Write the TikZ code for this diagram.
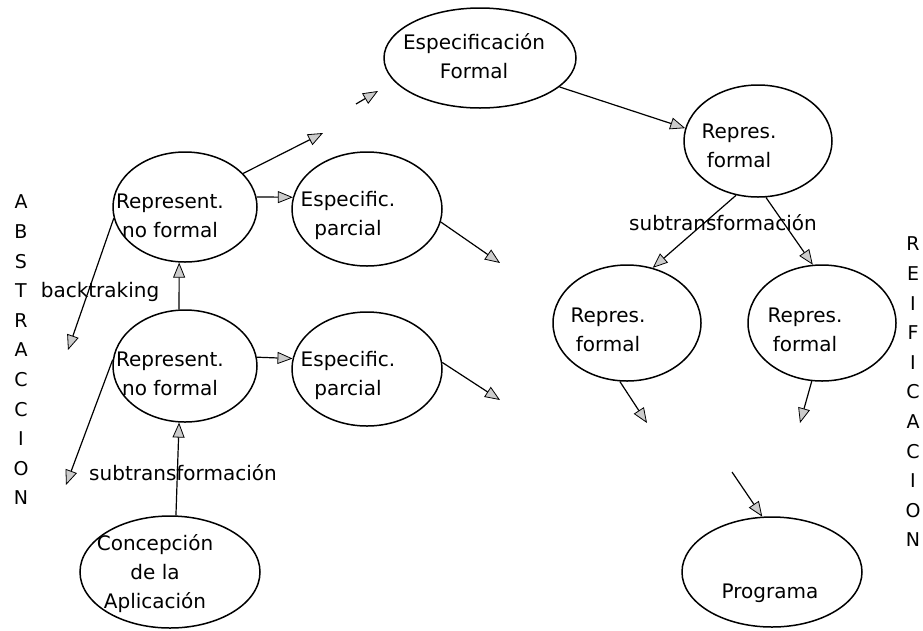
\documentclass[tikz,border=0pt]{standalone}
\usepackage{fontspec}
\setmainfont{DejaVu Sans}
\usetikzlibrary{shapes.geometric,arrows.meta}
\begin{document}
\begin{tikzpicture}[x=1pt,y=-1pt,
  oval/.style={ellipse, draw, line width=1.5pt, inner sep=0pt},
  txt/.style={align=center, font=\fontsize{20}{29}\selectfont, inner sep=0pt},
  side/.style={align=center, font=\fontsize{19}{29.6}\selectfont, inner sep=0pt},
  conn/.style={line width=1.2pt, -{Triangle[length=15pt,width=12pt,fill=gray!40,line width=0.8pt]}},
]
\useasboundingbox (0,0) rectangle (923,630);

% side captions
\node[side] (abs) at (21,350) {A\\B\\S\\T\\R\\A\\C\\C\\I\\O\\N};
\node[side] (rei) at (913,392) {R\\E\\I\\F\\I\\C\\A\\C\\I\\O\\N};

% abstraction branch (left)
\node[oval, minimum width=180, minimum height=112] (C) at (170,572) {};
\node[txt] (Ct) at (155,574) {Concepción\\de la\\Aplicación};
\node[oval, minimum width=144, minimum height=112] (L2) at (185,366) {};
\node[txt] (L2t) at (170,374) {Represent.\\no formal};
\node[oval, minimum width=144, minimum height=110] (L1) at (185,207) {};
\node[txt] (L1t) at (170,216) {Represent.\\no formal};
\node[oval, minimum width=150, minimum height=114] (P1) at (367,209) {};
\node[txt] (P1t) at (348,215) {Especific.\\parcial};
\node[oval, minimum width=150, minimum height=114] (P2) at (367,369) {};
\node[txt] (P2t) at (348,375) {Especific.\\parcial};

% reification branch (right)
\node[oval, minimum width=192, minimum height=100] (E1) at (480,58) {};
\node[txt] (E1t) at (474,56) {Especificación\\Formal};
\node[oval, minimum width=148, minimum height=112] (E2) at (758,141) {};
\node[txt] (E2t) at (739,146) {Repres.\\formal};
\node[oval, minimum width=148, minimum height=116] (E3) at (627,323) {};
\node[txt] (E3t) at (608,330) {Repres.\\formal};
\node[oval, minimum width=148, minimum height=116] (E4) at (822,323) {};
\node[txt] (E4t) at (805,330) {Repres.\\formal};
\node[oval, minimum width=180, minimum height=110] (E5) at (772,572) {};
\node[txt] (E5t) at (770,593) {Programa};

% labels
\node[txt] (lbt) at (100,292) {backtraking};
\node[txt] (lst) at (183,473) {subtransformación};
\node[txt] (lsr) at (723,223) {subtransformación};

% loose ends
\coordinate (up1) at (323,133);
\coordinate (in0) at (356,104);
\coordinate (in1) at (378,91);
\coordinate (bt) at (68,350);
\coordinate (st) at (66,485);
\coordinate (p1o) at (500,263);
\coordinate (p2o) at (500,400);
\coordinate (e3o) at (647,423);
\coordinate (e4o) at (800,423);
\coordinate (pin) at (732,472);

% connectors
\draw[conn] (C.84) -- (L2.264);
\draw[conn] (L2.96) -- (L1.264);
\draw[conn] (L1.8) -- (P1.171);
\draw[conn] (L2.7) -- (P2.172);
\draw[conn] (L1.30) -- (up1);
\draw[conn] (L1.189) -- (bt);
\draw[conn] (L2.175) -- (st);
\draw[conn] (P1.-10) -- (p1o);
\draw[conn] (P2.5) -- (p2o);
\draw[conn] (in0) -- (in1);
\draw[conn] (E1.-20) -- (E2.170);
\draw[conn] (E2.248) -- (E3.65);
\draw[conn] (E2.278) -- (E4.99);
\draw[conn] (E3.263) -- (e3o);
\draw[conn] (E4.260) -- (e4o);
\draw[conn] (pin) -- (E5.100);
\end{tikzpicture}
\end{document}
